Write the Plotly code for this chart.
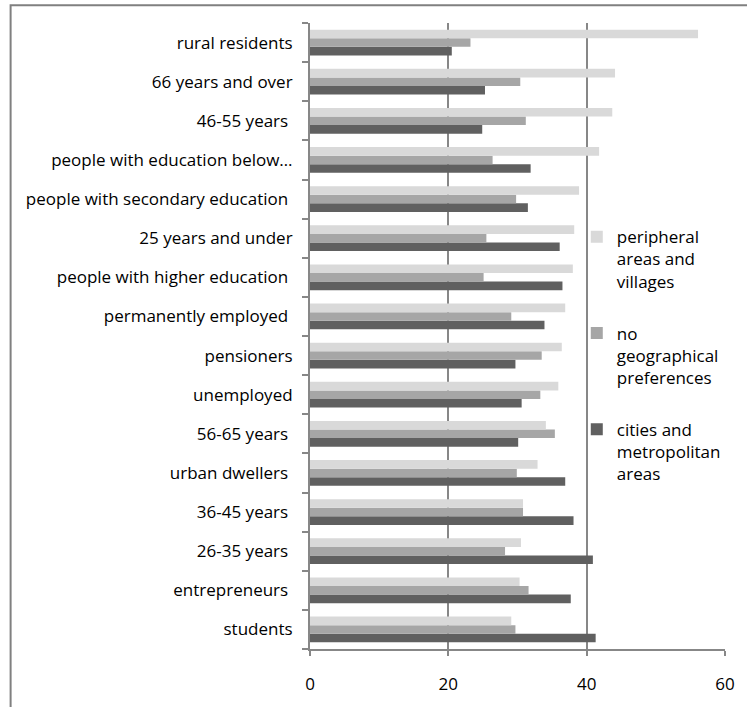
import plotly.graph_objects as go

# Groups, listed bottom-to-top as they appear on the category axis
categories = [
    "students",
    "entrepreneurs\u00a0",
    "26-35 years\u00a0",
    "36-45 years\u00a0",
    "urban dwellers\u00a0",
    "56-65 years\u00a0",
    "unemployed",
    "pensioners",
    "permanently employed\u00a0",
    "people with higher education\u00a0",
    "25 years and under",
    "people with secondary education\u00a0",
    "people with education below…",
    "46-55 years\u00a0",
    "66 years and over",
    "rural residents",
]

# Share of respondents (%) preferring each type of place
cities_metropolitan = [41.3, 37.7, 40.9, 38.1, 36.9, 30.1, 30.6, 29.7, 33.9, 36.5, 36.1, 31.5, 31.9, 24.9, 25.3, 20.5]
no_preference = [29.7, 31.6, 28.2, 30.8, 29.9, 35.4, 33.3, 33.5, 29.1, 25.1, 25.5, 29.8, 26.4, 31.2, 30.4, 23.2]
peripheral_villages = [29.1, 30.3, 30.5, 30.8, 32.9, 34.1, 35.9, 36.4, 36.9, 38.0, 38.2, 38.9, 41.8, 43.7, 44.1, 56.1]

# (legend label, values, colour, legend position from the top)
series = [
    ("cities and<br>metropolitan<br>areas", cities_metropolitan, "#606060", 3),
    ("no<br>geographical<br>preferences", no_preference, "#a6a6a6", 2),
    ("peripheral<br>areas and<br>villages", peripheral_villages, "#d9d9d9", 1),
]

FONT = "Open Sans"
AXIS_GRAY = "#878787"

fig = go.Figure()
for name, values, color, rank in series:
    fig.add_trace(go.Bar(
        y=categories,
        x=values,
        name=name,
        orientation="h",
        marker=dict(color=color, line=dict(width=0)),
        legendgroup=f"g{rank}",
        legendrank=rank,
    ))

W, H = 747, 707
L, R, T, B = 310, 17, 23, 49
pw, ph = W - L - R, H - T - B


def px_x(p):
    return (p - L) / pw


def px_y(p):
    return (H - B - p) / ph


fig.update_layout(
    width=W,
    height=H,
    margin=dict(l=L, r=R, t=T, b=B, pad=0),
    paper_bgcolor="white",
    plot_bgcolor="white",
    barmode="group",
    bargap=0.34,
    bargroupgap=0,
    font=dict(family=FONT, size=17, color="#000000"),
    xaxis=dict(
        range=[0, 60],
        tick0=0,
        dtick=20,
        showgrid=True,
        gridcolor=AXIS_GRAY,
        gridwidth=1.5,
        zeroline=False,
        showline=True,
        linecolor=AXIS_GRAY,
        linewidth=2,
        ticks="outside",
        ticklen=5,
        tickcolor=AXIS_GRAY,
        tickwidth=1.5,
        ticklabelstandoff=14,
        tickfont=dict(family=FONT, size=17, color="#000000"),
        fixedrange=True,
    ),
    yaxis=dict(
        type="category",
        categoryorder="array",
        categoryarray=categories,
        showgrid=False,
        zeroline=False,
        showline=True,
        linecolor=AXIS_GRAY,
        linewidth=2,
        ticks="outside",
        ticklen=6,
        tickcolor=AXIS_GRAY,
        tickwidth=1.5,
        tickson="boundaries",
        ticklabelstandoff=12,
        tickfont=dict(family=FONT, size=17, color="#000000"),
        fixedrange=True,
    ),
    legend=dict(
        x=px_x(580),
        xanchor="left",
        y=px_y(222),
        yanchor="top",
        traceorder="grouped",
        tracegroupgap=27,
        valign="top",
        bgcolor="rgba(0,0,0,0)",
        borderwidth=0,
        font=dict(family=FONT, size=17, color="#000000"),
    ),
    shapes=[
        # outer chart frame (left and top edges visible)
        dict(
            type="rect",
            xref="paper",
            yref="paper",
            x0=px_x(7),
            x1=px_x(770),
            y0=px_y(730),
            y1=px_y(5),
            line=dict(color="#808080", width=2),
            fillcolor="rgba(0,0,0,0)",
            layer="below",
        )
    ],
)

fig.write_html("out.html")
